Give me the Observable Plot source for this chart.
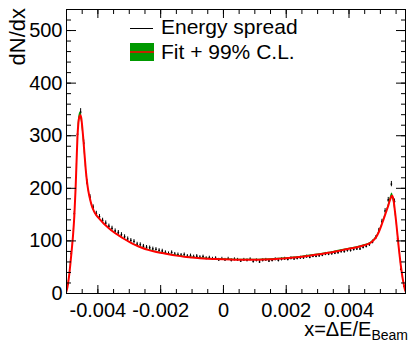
<!DOCTYPE html>
<html><head><meta charset="utf-8">
<script src="https://cdn.jsdelivr.net/npm/d3@7"></script>
<script src="https://cdn.jsdelivr.net/npm/@observablehq/plot@0.6"></script>
<style>
html,body{margin:0;padding:0;background:#fff;}
#chart{width:409px;height:342px;overflow:hidden;}
</style></head><body><div id="chart"></div>
<script>
const FONT = "'Liberation Sans', Arial, Helvetica, sans-serif";

// axis ticks
const xMajorTicks = [-0.004, -0.002, 0, 0.002, 0.004];
const xMinorTicks = [-0.005,-0.0045,-0.004,-0.0035,-0.003,-0.0025,-0.002,-0.0015,-0.001,-0.0005,0,0.0005,0.001,0.0015,0.002,0.0025,0.003,0.0035,0.004,0.0045,0.005,0.0055];
const yMajorTicks = [0, 100, 200, 300, 400, 500];
const yMinorTicks = [0,20,40,60,80,100,120,140,160,180,200,220,240,260,280,300,320,340,360,380,400,420,440,460,480,500,520,540];

// histogram: "Energy spread"
const binStart = -0.00495, binWidth = 0.0001;
const counts = [18,76,152,303,345,286,212,183,164,152,
146,139,134,128,124,119,116,112,108,104,
101,99,94,93,90,88,87,85,84,82,
81,78,76,78,75,74,73,74,71,72,
70,71,69,70,67,68,66,67,64,66,
64,66,63,65,64,62,64,63,65,61,
63,60,63,64,62,63,65,63,65,66,
65,67,66,67,68,68,70,69,71,71,
72,73,75,75,76,77,78,80,80,82,
82,84,85,85,88,90,93,98,106,120,
137,157,178,208,175,104,46,14];

// fit curve
const fitX = [-0.00502,-0.00497,-0.00492,-0.00487,-0.00483,-0.00479,-0.00475,-0.00471,-0.00468,-0.00465,
-0.00462,-0.00459,-0.00456,-0.00453,-0.0045,-0.00447,-0.00443,-0.00439,-0.00435,-0.00431,
-0.00426,-0.0042,-0.00413,-0.00405,-0.00395,-0.0038,-0.00365,-0.0035,-0.00335,-0.0032,
-0.003,-0.0028,-0.0026,-0.0024,-0.0022,-0.002,-0.00175,-0.0015,-0.00125,-0.001,
-0.00075,-0.0005,-0.00025,0,0.00025,0.0005,0.00075,0.001,0.00125,0.0015,
0.00175,0.002,0.00225,0.0025,0.00275,0.003,0.00325,0.0035,0.00375,0.004,
0.00425,0.0045,0.0047,0.00485,0.00495,0.00503,0.0051,0.00517,0.00524,0.00529,
0.00533,0.00537,0.0054,0.00543,0.00546,0.00549,0.00552,0.00555,0.00558,0.00561,
0.00564,0.00567,0.0057,0.00573,0.00576,0.00579,0.00582];
const fitY = [1,12,32,60,85,112,148,200,250,298,
325,336,339,334,318,298,268,238,214,197,
182,168,157,149,142,132,124,117,111,105,
98,92,87,83,80,77.5,74.5,72,70,68.5,
67,66,65.5,65,64.5,64,64,64,64.5,65,
66,67,68.5,70,72,74,76.5,79,82,85,
88,92,97,106,117,129,141,153,165,175,
182,186,183,173,158,143,126,108,90,74,
58,45,32,22,13,6,2];
const fitBand = [1,1,1,1,1,1,1,1,2,3,
5,6,6,6,5,4,3,2,1,1,
1,1,1,1,1,1,1,1,1,1,
1,1,1,1,1,1,1,1,1,1,
1,1,1,1,1,1,1,1,1,1,
1,1,1,1,1,1,1,1,1,1,
1,1,1,1,1,1,1,1,2,3,
4,5,5,4,3,2,1,1,1,1,
1,1,1,1,1,1,1];

const hist = counts.map((c, i) => {
  const e = Math.sqrt(c) * 0.35;
  return {x: binStart + i * binWidth, y: c, lo: c - e, hi: c + e};
});
const fit = fitX.map((x, i) => ({x, y: fitY[i], lo: fitY[i] - fitBand[i], hi: fitY[i] + fitBand[i]}));

const fmtX = d => d === 0 ? "0" : d.toFixed(3);
const noText = {fill: "none", tickFormat: () => "", label: null};

const plot = Plot.plot({
  width: 409, height: 342,
  marginLeft: 66, marginRight: 4, marginTop: 9, marginBottom: 49,
  x: {domain: [-0.005, 0.0058], label: null},
  y: {domain: [0, 540], label: null},
  style: {fontFamily: FONT, fontSize: "20px", color: "black", background: "white"},
  marks: [
    Plot.ruleX(hist, {x: "x", y1: "lo", y2: "hi", stroke: "black", strokeWidth: 1, clip: true}),
    Plot.dot(hist, {x: "x", y: "y", r: 0.9, fill: "black", stroke: "none", clip: true}),
    Plot.areaY(fit, {x: "x", y1: "lo", y2: "hi", fill: "#009900", curve: "monotone-x", clip: true}),
    Plot.line(fit, {x: "x", y: "y", stroke: "#ff0000", strokeWidth: 2, curve: "monotone-x", clip: true}),
    Plot.frame({stroke: "black", strokeWidth: 1}),
    // inward ticks on all four sides
    Plot.axisX({anchor: "bottom", ticks: xMajorTicks, tickSize: 8, dy: -8, ...noText}),
    Plot.axisX({anchor: "bottom", ticks: xMinorTicks, tickSize: 4, dy: -4, ...noText}),
    Plot.axisX({anchor: "top", ticks: xMajorTicks, tickSize: 8, dy: 8, ...noText}),
    Plot.axisX({anchor: "top", ticks: xMinorTicks, tickSize: 4, dy: 4, ...noText}),
    Plot.axisY({anchor: "left", ticks: yMajorTicks, tickSize: 10, dx: 10, ...noText}),
    Plot.axisY({anchor: "left", ticks: yMinorTicks, tickSize: 5, dx: 5, ...noText}),
    Plot.axisY({anchor: "right", ticks: yMajorTicks, tickSize: 10, dx: -10, ...noText}),
    Plot.axisY({anchor: "right", ticks: yMinorTicks, tickSize: 5, dx: -5, ...noText}),
    // tick labels
    Plot.axisX({anchor: "bottom", ticks: xMajorTicks, tickSize: 0, tickPadding: 9, tickFormat: fmtX, label: null}),
    Plot.axisY({anchor: "left", ticks: yMajorTicks, tickSize: 0, tickPadding: 4, tickFormat: d => String(d), label: null})
  ]
});
document.getElementById("chart").appendChild(plot);

const svg = d3.select(plot);
// axis titles
svg.append("text").attr("transform", "translate(25,8) rotate(-90)")
  .attr("text-anchor", "end").attr("font-size", 22).attr("font-family", FONT).attr("fill", "black").text("dN/dx");
const xt = svg.append("text").attr("x", 408).attr("y", 336).attr("text-anchor", "end")
  .attr("font-size", 20).attr("font-family", FONT).attr("fill", "black");
xt.append("tspan").text("x=ΔE/E");
xt.append("tspan").attr("font-size", 14).attr("dy", 4).text("Beam");
// legend
const lg = svg.append("g").attr("font-family", FONT).attr("font-size", 21).attr("fill", "black").attr("text-anchor", "start");
lg.append("line").attr("x1", 130).attr("x2", 153).attr("y1", 28.5).attr("y2", 28.5).attr("stroke", "black").attr("stroke-width", 1);
lg.append("text").attr("x", 161).attr("y", 34).attr("text-anchor", "start").text("Energy spread");
lg.append("rect").attr("x", 130).attr("y", 43).attr("width", 24).attr("height", 18).attr("fill", "#009900");
lg.append("line").attr("x1", 130).attr("x2", 154).attr("y1", 52).attr("y2", 52).attr("stroke", "#ff0000").attr("stroke-width", 1.5);
lg.append("text").attr("x", 161).attr("y", 59).attr("text-anchor", "start").text("Fit + 99% C.L.");
</script></body></html>
